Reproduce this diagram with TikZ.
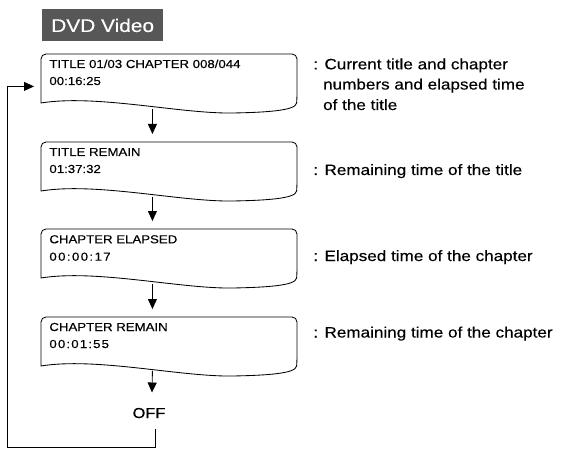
\documentclass[tikz,border=0pt]{standalone}
\usepackage{fontspec}
\setmainfont{Liberation Sans}[FakeStretch=1.14,FakeBold=0.25]
\usetikzlibrary{arrows.meta}
\definecolor{dvdgray}{HTML}{575757}
\begin{document}
\begin{tikzpicture}[x=1pt,y=-1pt, line width=0.85pt,
  boxtext/.style={anchor=base west, inner sep=0pt, font=\fontsize{11.6}{14}\selectfont},
  desc/.style={anchor=base west, inner sep=0pt, font=\fontsize{15}{18}\selectfont},
  boxarea/.style={minimum width=256pt, minimum height=52pt, inner sep=0pt, anchor=north west},
  arr/.style={-{Triangle[width=9pt,length=10pt]}},
  offtext/.style={anchor=base, inner sep=0pt, font=\fontsize{14.4}{16}\selectfont},
  wavebox/.style={line width=0.85pt}]
\useasboundingbox (0,0) rectangle (561,454);
\newcommand\wavepath{(0,49) [rounded corners=5pt] -- (0,0) -- (256,0) -- (256,44) [sharp corners] .. controls (255,57) and (222,58.4) .. (192,59) .. controls (140,60) and (55,40) .. (0,49) -- cycle}

% header label
\node[fill=dvdgray, text=white, inner sep=0pt, minimum width=121.5pt, minimum height=32pt,
      anchor=north west, font=\fontsize{18.3}{20}\selectfont] (dvd) at (41.5,9) {DVD Video};

% boxes
\node[boxarea] (box1) at (41,54) {};
\node[boxarea] (box2) at (41,142) {};
\node[boxarea] (box3) at (41,229) {};
\node[boxarea] (box4) at (41,317) {};
\foreach \b in {box1,box2,box3,box4}{
  \begin{scope}[shift={(\b.north west)}]
    \draw[wavebox] \wavepath;
  \end{scope}
}

% box texts
\node[boxtext] (t1) at (49,68) {TITLE 01/03 CHAPTER 008/044};
\node[boxtext] (v1) at (49,85) {00:16:25};
\node[boxtext] (t2) at (49,156) {TITLE REMAIN};
\node[boxtext] (v2) at (49,173) {01:37:32};
\node[boxtext] (t3) at (49,243.3) {CHAPTER ELAPSED};
\node[boxtext] (v3) at (49,260.7) {\addfontfeature{LetterSpace=12}00:00:17};
\node[boxtext] (t4) at (49,331) {CHAPTER REMAIN};
\node[boxtext] (v4) at (49,348) {\addfontfeature{LetterSpace=10}00:01:55};

% OFF
\node[offtext] (off) at (149,418) {OFF};

% arrows
\draw[arr] ([xshift=-17pt,yshift=-2pt]box1.south) -- ([xshift=-17pt,yshift=8pt]box2.north);
\draw[arr] ([xshift=-17pt,yshift=-2pt]box2.south) -- ([xshift=-17pt,yshift=8pt]box3.north);
\draw[arr] ([xshift=-17pt,yshift=-2pt]box3.south) -- ([xshift=-17pt,yshift=8pt]box4.north);
\draw[arr] ([xshift=-17pt,yshift=-1pt]box4.south) -- ([xshift=3pt,yshift=15pt]off.north);

% feedback loop
\coordinate (ll) at (7,447);
\draw[arr] ([xshift=6pt,yshift=-10pt]off.south) |- (ll) |- ([xshift=-7pt,yshift=-6pt]box1.west);

% descriptions
\node[desc] (d1a) at (313,69.3) {: Current title and chapter};
\node[desc] (d1b) at (322.7,89.5) {numbers and elapsed time};
\node[desc] (d1c) at (322.7,110) {of the title};
\node[desc] (d2) at (313,175) {: Remaining time of the title};
\node[desc] (d3) at (313,261) {: Elapsed time of the chapter};
\node[desc] (d4) at (313,337.5) {: Remaining time of the chapter};
\end{tikzpicture}
\end{document}
